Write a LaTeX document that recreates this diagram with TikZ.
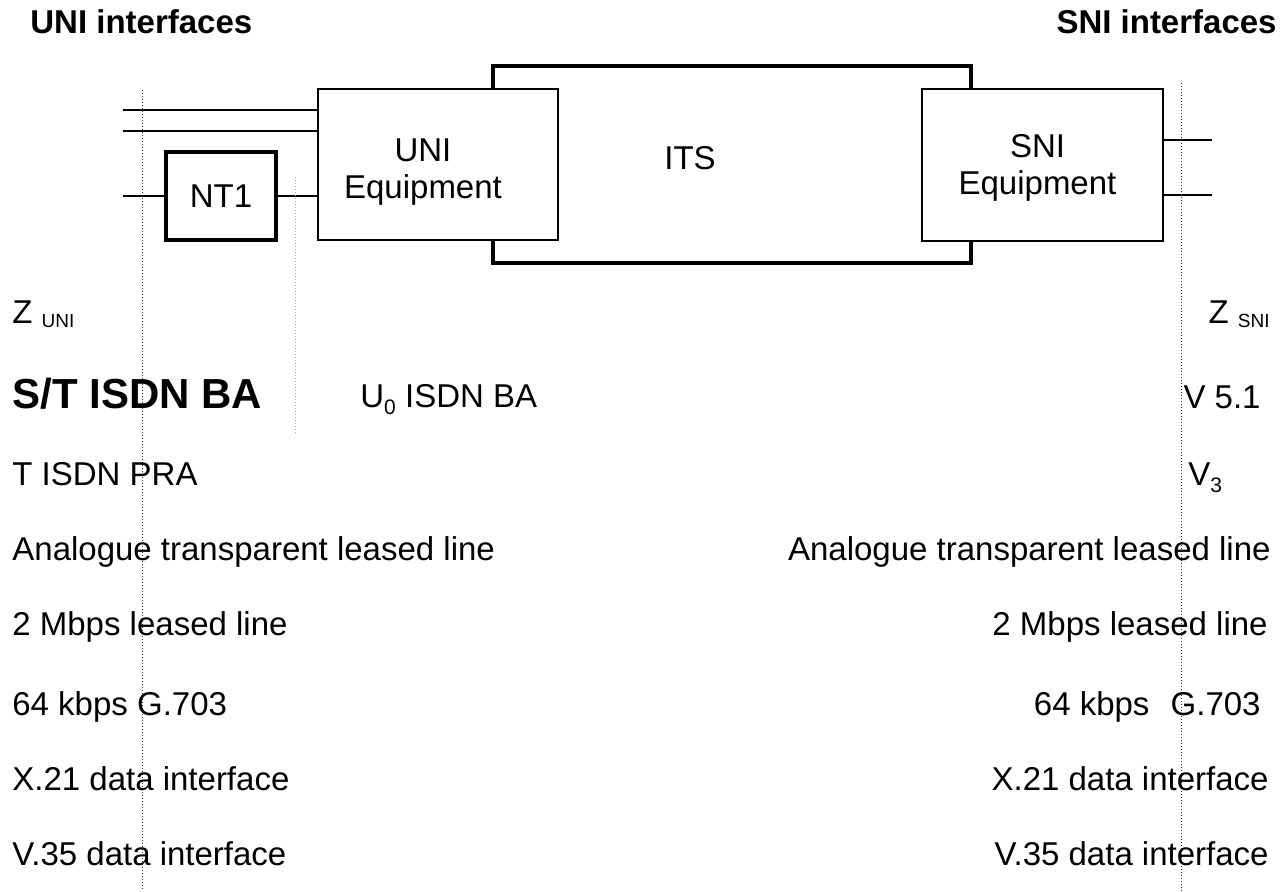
\documentclass[tikz,border=0pt]{standalone}
\usepackage{fontspec}
\setmainfont{Liberation Sans}
\usetikzlibrary{positioning}
\tikzset{
  thinbox/.style={draw, line width=0.65pt, fill=white, inner sep=0pt},
  thickbox/.style={draw, line width=1.8pt, fill=white, inner sep=0pt,
    font=\fontsize{16.5}{20}\selectfont},
  wire/.style={line width=1pt},
  ifline/.style={densely dotted, line width=0.5pt, black!80},
  txt/.style={inner sep=0pt, font=\fontsize{16.5}{20}\selectfont},
  boxtxt/.style={inner sep=0pt, align=center, font=\fontsize{16.5}{18.5}\selectfont},
  hdr/.style={inner sep=0pt, font=\fontsize{16.5}{20}\selectfont\bfseries},
}
\newcommand{\smallsub}[1]{\raisebox{-2pt}{\fontsize{9.5}{10}\selectfont #1}}
\newcommand{\lowsub}[1]{\raisebox{-3.5pt}{\fontsize{10.5}{11}\selectfont #1}}
\begin{document}
\begin{tikzpicture}[x=0.5pt, y=-0.5pt]
  \useasboundingbox (0,0) rectangle (1287,891);
  % headings
  \node[hdr, anchor=base west] (unihdr) at (30,33) {UNI interfaces};
  \node[hdr, anchor=base east] (snihdr) at (1277,33) {SNI interfaces};
  % the network and its equipment
  \node[thickbox, minimum width=239pt, minimum height=98.5pt,
        label={[txt, shift={(-21pt,3pt)}]center:ITS}] (its) at (732,164.5) {};
  \node[thinbox, minimum width=120pt, minimum height=75.5pt,
        label={[boxtxt, shift={(-7.5pt,-4pt)}]center:UNI\\Equipment}] (uni) at (438,164.5) {};
  \node[thinbox, minimum width=120.5pt, minimum height=76pt,
        label={[boxtxt, shift={(-2.5pt,-1.5pt)}]center:SNI\\Equipment}] (sni) at (1042.5,165) {};
  \node[thickbox, minimum width=55pt, minimum height=44pt] (nt1) at (221,196) {NT1};
  % lines into the UNI side
  \coordinate (ua) at (123,110);
  \coordinate (ub) at (123,131);
  \coordinate (uc) at (123,196);
  \draw[wire] (ua) -- (ua -| uni.west);
  \draw[wire] (ub) -- (ub -| uni.west);
  \draw[wire] (uc) -- (nt1.west);
  \draw[wire] (nt1.east) -- (nt1.east -| uni.west);
  % lines out of the SNI side
  \coordinate (sa) at (1212,140);
  \coordinate (sb) at (1212,195);
  \draw[wire] (sa -| sni.east) -- (sa);
  \draw[wire] (sb -| sni.east) -- (sb);
  % interface reference lines
  \coordinate (zu) at (142,90);
  \coordinate (zs) at (1181,83);
  \coordinate (ut) at (295,177);
  \draw[ifline] (zu) -- (142,891);
  \draw[ifline] (zs) -- (1181,891);
  \draw[ifline, black!35] (ut) -- (295,433);
  % UNI side list
  \node[txt, anchor=base west] (zuni) at (12,323) {Z \smallsub{UNI}};
  \node[inner sep=0pt, font=\fontsize{21}{25}\selectfont\bfseries, anchor=base west] (stba) at (12,408) {S/T ISDN BA};
  \node[txt, anchor=base west] (uzero) at (360,407) {U\lowsub{0} ISDN BA};
  \node[txt, anchor=base west] (tpra) at (12,485) {T ISDN PRA};
  \node[txt, anchor=base west] (anal) at (12,560) {Analogue transparent leased line};
  \node[txt, anchor=base west] (twom) at (12,635) {2 Mbps leased line};
  \node[txt, anchor=base west] (g703) at (12,715) {64 kbps G.703};
  \node[txt, anchor=base west] (xtwo) at (12,790) {X.21 data interface};
  \node[txt, anchor=base west] (vthree) at (12,865) {V.35 data interface};
  % SNI side list
  \node[txt, anchor=base east] (zsni) at (1270,323) {Z \smallsub{SNI}};
  \node[txt, anchor=base east] (vfive) at (1261,408) {V 5.1};
  \node[txt, anchor=base west] (vthr) at (1188,485) {V\lowsub{3}};
  \node[txt, anchor=base east] (analr) at (1271,560) {Analogue transparent leased line};
  \node[txt, anchor=base east] (twomr) at (1268,635) {2 Mbps leased line};
  \node[txt, anchor=base east] (g703r) at (1261,715) {64 kbps\hspace{6pt} G.703};
  \node[txt, anchor=base east] (xtwor) at (1269,790) {X.21 data interface};
  \node[txt, anchor=base east] (vthreer) at (1269,865) {V.35 data interface};
\end{tikzpicture}
\end{document}
